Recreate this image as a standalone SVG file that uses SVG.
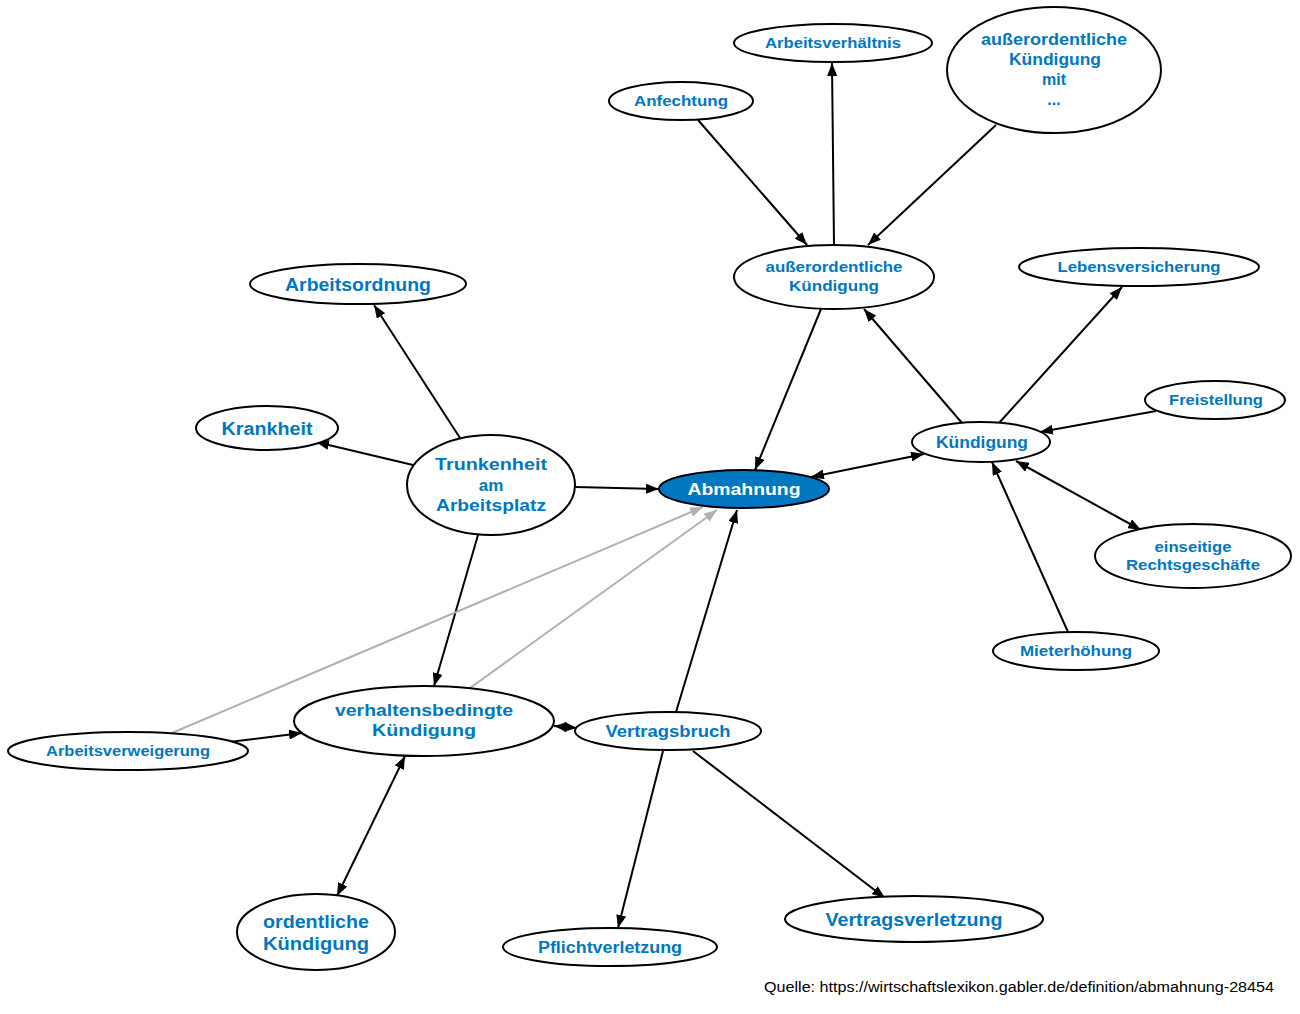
<svg xmlns="http://www.w3.org/2000/svg" width="1300" height="1014" viewBox="0 0 1300 1014">
<defs>
<style>
.n ellipse{fill:#fff;stroke:#000;stroke-width:2}
.n text{font-family:"Liberation Sans",Arial,sans-serif;font-weight:bold;fill:#0077c0;text-anchor:middle}
.e line{stroke:#000;stroke-width:2;marker-end:url(#a)}
.e line.g{stroke:#b0b0b0;marker-end:url(#ag)}
.e line.d{marker-start:url(#a)}
</style>
<marker id="a" markerUnits="userSpaceOnUse" markerWidth="14" markerHeight="10" refX="13" refY="5" orient="auto-start-reverse"><path d="M0,0 L13,5 L0,10 z" fill="#000"/></marker>
<marker id="ag" markerUnits="userSpaceOnUse" markerWidth="14" markerHeight="10" refX="13" refY="5" orient="auto"><path d="M0,0 L13,5 L0,10 z" fill="#b0b0b0"/></marker>
</defs>
<rect width="1300" height="1014" fill="#fff"/>
<g id="edges" class="e">
<line x1="834" y1="245" x2="832" y2="63"/>
<line x1="698" y1="120" x2="807" y2="245"/>
<line x1="996" y1="125" x2="868" y2="245"/>
<line x1="821" y1="309" x2="755" y2="470"/>
<line x1="962" y1="423" x2="864" y2="309"/>
<line x1="999" y1="423" x2="1122" y2="287"/>
<line x1="1156" y1="411" x2="1040" y2="432"/>
<line class="d" x1="1016" y1="461" x2="1141" y2="530"/>
<line x1="1068" y1="632" x2="992" y2="462"/>
<line class="d" x1="811" y1="477" x2="924" y2="454"/>
<line x1="460" y1="438" x2="374" y2="305"/>
<line x1="413" y1="465" x2="316" y2="442"/>
<line x1="575" y1="487" x2="659" y2="489"/>
<line x1="478" y1="535" x2="434" y2="686"/>
<line class="g" x1="470" y1="688" x2="717" y2="510"/>
<line class="g" x1="172" y1="733" x2="703" y2="507"/>
<line x1="229" y1="742" x2="302" y2="733"/>
<line class="d" x1="554" y1="726" x2="577" y2="728"/>
<line x1="676" y1="712" x2="737" y2="510"/>
<line x1="663" y1="751" x2="618" y2="928"/>
<line x1="693" y1="751" x2="885" y2="898"/>
<line class="d" x1="405" y1="756" x2="337" y2="896"/>
</g>
<g id="n_abmahnung" class="n"><ellipse cx="744" cy="489" rx="85" ry="19" style="fill:#0077c0"/><text x="744" y="495" font-size="17" textLength="113" lengthAdjust="spacingAndGlyphs" style="fill:#fff">Abmahnung</text></g>
<g id="n_kuendigung" class="n"><ellipse cx="981" cy="442" rx="69" ry="20"/><text x="982" y="448" font-size="16" textLength="92" lengthAdjust="spacingAndGlyphs">Kündigung</text></g>
<g id="n_aok" class="n"><ellipse cx="834" cy="277" rx="100" ry="32"/><text x="834" y="272" font-size="15" textLength="137" lengthAdjust="spacingAndGlyphs">außerordentliche</text><text x="834" y="291" font-size="15" textLength="90" lengthAdjust="spacingAndGlyphs">Kündigung</text></g>
<g id="n_arbeitsverhaeltnis" class="n"><ellipse cx="833" cy="43" rx="99" ry="19"/><text x="833" y="48" font-size="15" textLength="136" lengthAdjust="spacingAndGlyphs">Arbeitsverhältnis</text></g>
<g id="n_anfechtung" class="n"><ellipse cx="681" cy="101" rx="72" ry="19"/><text x="681" y="106" font-size="15" textLength="94" lengthAdjust="spacingAndGlyphs">Anfechtung</text></g>
<g id="n_aokmit" class="n"><ellipse cx="1054" cy="70" rx="107" ry="63"/><text x="1054" y="45" font-size="16" textLength="146" lengthAdjust="spacingAndGlyphs">außerordentliche</text><text x="1055" y="65" font-size="16" textLength="92" lengthAdjust="spacingAndGlyphs">Kündigung</text><text x="1054" y="85" font-size="16">mit</text><text x="1054" y="105" font-size="16">...</text></g>
<g id="n_lebensversicherung" class="n"><ellipse cx="1139" cy="267" rx="120" ry="19"/><text x="1139" y="272" font-size="14" textLength="163" lengthAdjust="spacingAndGlyphs">Lebensversicherung</text></g>
<g id="n_freistellung" class="n"><ellipse cx="1215" cy="400" rx="70" ry="19"/><text x="1216" y="405" font-size="15" textLength="94" lengthAdjust="spacingAndGlyphs">Freistellung</text></g>
<g id="n_einseitige" class="n"><ellipse cx="1193" cy="556" rx="98" ry="32"/><text x="1193" y="552" font-size="15" textLength="77" lengthAdjust="spacingAndGlyphs">einseitige</text><text x="1193" y="570" font-size="15" textLength="134" lengthAdjust="spacingAndGlyphs">Rechtsgeschäfte</text></g>
<g id="n_mieterhoehung" class="n"><ellipse cx="1076" cy="651" rx="83" ry="19"/><text x="1076" y="656" font-size="14" textLength="112" lengthAdjust="spacingAndGlyphs">Mieterhöhung</text></g>
<g id="n_trunkenheit" class="n"><ellipse cx="491" cy="485" rx="84" ry="50"/><text x="491" y="470" font-size="17" textLength="112" lengthAdjust="spacingAndGlyphs">Trunkenheit</text><text x="491" y="491" font-size="17">am</text><text x="491" y="511" font-size="17" textLength="110" lengthAdjust="spacingAndGlyphs">Arbeitsplatz</text></g>
<g id="n_arbeitsordnung" class="n"><ellipse cx="358" cy="284" rx="108" ry="20"/><text x="358" y="291" font-size="18" textLength="146" lengthAdjust="spacingAndGlyphs">Arbeitsordnung</text></g>
<g id="n_krankheit" class="n"><ellipse cx="267" cy="428" rx="71" ry="22"/><text x="267" y="435" font-size="18" textLength="91" lengthAdjust="spacingAndGlyphs">Krankheit</text></g>
<g id="n_verhaltensbedingte" class="n"><ellipse cx="424" cy="721" rx="130" ry="35"/><text x="424" y="716" font-size="17" textLength="178" lengthAdjust="spacingAndGlyphs">verhaltensbedingte</text><text x="424" y="736" font-size="17" textLength="104" lengthAdjust="spacingAndGlyphs">Kündigung</text></g>
<g id="n_arbeitsverweigerung" class="n"><ellipse cx="128" cy="751" rx="120" ry="19"/><text x="128" y="756" font-size="14" textLength="164" lengthAdjust="spacingAndGlyphs">Arbeitsverweigerung</text></g>
<g id="n_vertragsbruch" class="n"><ellipse cx="668" cy="731" rx="93" ry="19"/><text x="668" y="737" font-size="16" textLength="125" lengthAdjust="spacingAndGlyphs">Vertragsbruch</text></g>
<g id="n_ordentliche" class="n"><ellipse cx="316" cy="932" rx="79" ry="38"/><text x="316" y="928" font-size="19" textLength="106" lengthAdjust="spacingAndGlyphs">ordentliche</text><text x="316" y="950" font-size="19" textLength="106" lengthAdjust="spacingAndGlyphs">Kündigung</text></g>
<g id="n_pflichtverletzung" class="n"><ellipse cx="610" cy="947" rx="107" ry="19"/><text x="610" y="953" font-size="16" textLength="144" lengthAdjust="spacingAndGlyphs">Pflichtverletzung</text></g>
<g id="n_vertragsverletzung" class="n"><ellipse cx="914" cy="919" rx="129" ry="23"/><text x="914" y="926" font-size="19" textLength="177" lengthAdjust="spacingAndGlyphs">Vertragsverletzung</text></g>
<text x="764" y="992" font-family="Liberation Sans,Arial,sans-serif" font-size="14" textLength="510" lengthAdjust="spacingAndGlyphs" fill="#000">Quelle: https://wirtschaftslexikon.gabler.de/definition/abmahnung-28454</text>
</svg>
